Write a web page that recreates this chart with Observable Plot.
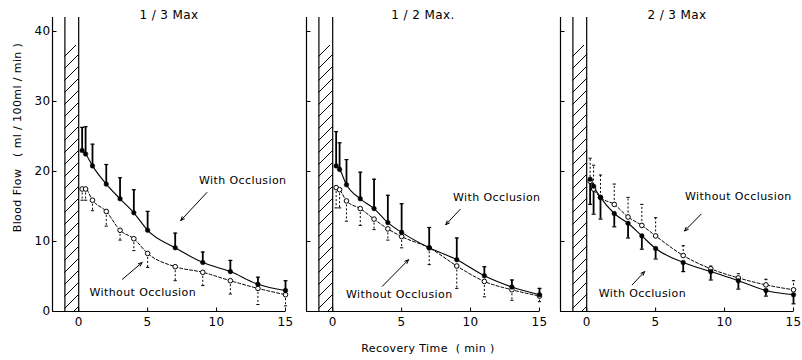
<!DOCTYPE html>
<html><head><meta charset="utf-8">
<script src="https://cdn.jsdelivr.net/npm/d3@7"></script>
<script src="https://cdn.jsdelivr.net/npm/@observablehq/plot@0.6"></script>
<style>body{margin:0;background:#fff}#chart{width:802px;height:360px}</style>
</head><body><div id="chart"></div>
<script>
// ---- data ----
const panels = ["1 / 3 Max", "1 / 2 Max.", "2 / 3 Max"];
const times = [0.25, 0.5, 1, 2, 3, 4, 5, 7, 9, 11, 13, 15];
const xTicks = [0, 5, 10, 15];
const yTicks = [0, 10, 20, 30, 40];
const xMin = -1.9, xMax = 15, yMax = 42;
const occlusionStart = -1, occlusionEnd = 0, occlusionTop = 38;

// With occlusion (filled circles, solid line); error-bar tip values
const withOcc = [
  [23.0, 22.5, 20.8, 18.2, 16.1, 14.1, 11.6, 9.1, 7.0, 5.7, 3.9, 3.0],
  [20.8, 20.3, 18.1, 16.1, 14.7, 12.7, 11.3, 9.1, 7.4, 5.1, 3.5, 2.4],
  [18.9, 17.9, 16.3, 14.0, 12.6, 10.8, 9.0, 7.0, 5.7, 4.4, 3.0, 2.4]
];
const withOccTip = [
  [26.3, 26.4, 23.9, 21.0, 19.1, 17.4, 14.3, 11.2, 8.5, 7.3, 4.9, 4.4],
  [25.7, 24.1, 21.7, 19.9, 18.9, 16.6, 15.4, 12.0, 10.5, 6.4, 4.5, 3.3],
  [15.3, 13.9, 13.2, 12.1, 10.5, 8.9, 7.5, 5.7, 4.5, 3.2, 2.2, 1.1]
];
// Without occlusion (open circles, dashed line)
const withoutOcc = [
  [17.5, 17.5, 15.9, 14.3, 11.6, 10.4, 8.3, 6.4, 5.6, 4.4, 3.3, 2.4],
  [17.7, 17.4, 15.8, 14.7, 13.2, 11.8, 10.7, 9.1, 6.5, 4.3, 3.1, 2.2],
  [18.6, 17.5, 16.3, 15.3, 13.5, 12.3, 10.8, 8.0, 6.1, 4.8, 3.8, 3.1]
];
const withoutOccTip = [
  [15.9, 15.9, 14.4, 12.2, 10.2, 8.7, 6.3, 4.4, 3.7, 2.5, 1.0, 0.8],
  [14.8, 14.8, 12.9, 12.3, 11.7, 10.2, 9.1, 6.7, 3.3, 2.1, 1.6, 1.4],
  [21.9, 20.9, 19.5, 18.2, 16.3, 15.3, 13.4, 9.4, 6.5, 5.4, 4.6, 4.4]
];

// annotations (data coordinates)
const annPanel = [0, 0, 1, 1, 2, 2];
const annText = ["With Occlusion", "Without Occlusion", "With Occlusion", "Without Occlusion", "Without Occlusion", "With Occlusion"];
const annX = [11.9, 4.65, 11.9, 4.83, 11.0, 4.04];
const annY = [18.7, 2.7, 16.3, 2.5, 16.5, 2.6];
const arrowFrom = [[9.3, 17.0], [3.17, 4.6], [9.25, 14.6], [3.6, 3.6], [8.3, 13.9], [3.3, 3.8]];
const arrowTo = [[7.4, 13.0], [4.6, 7.0], [8.2, 12.4], [5.5, 7.4], [7.1, 11.5], [4.2, 5.7]];

const yLabel = "Blood Flow\u00a0\u00a0 ( ml / 100ml / min )";
const xLabel = "Recovery Time\u00a0 ( min )";

// ---- build tables ----
const rowsWith = [], rowsWithout = [];
panels.forEach((p, i) => times.forEach((t, j) => {
  rowsWith.push({panel: p, t, v: withOcc[i][j], tip: withOccTip[i][j]});
  rowsWithout.push({panel: p, t, v: withoutOcc[i][j], tip: withoutOccTip[i][j]});
}));
const anns = annText.map((s, i) => ({panel: panels[annPanel[i]], text: s, x: annX[i], y: annY[i],
  x1: arrowFrom[i][0], y1: arrowFrom[i][1], x2: arrowTo[i][0], y2: arrowTo[i][1]}));
const occ = [{start: occlusionStart, end: occlusionEnd, top: occlusionTop}];

const cap = {draw(ctx, size) { const w = Math.sqrt(size / Math.PI); ctx.moveTo(-w, 0); ctx.lineTo(w, 0); }};
const tickRight = {draw(ctx, size) { const w = Math.sqrt(size / Math.PI); ctx.moveTo(0, 0); ctx.lineTo(w, 0); }};
const tickUp = {draw(ctx, size) { const w = Math.sqrt(size / Math.PI); ctx.moveTo(0, 0); ctx.lineTo(0, -w); }};

const svg = Plot.plot({
  width: 802, height: 360,
  marginLeft: 51, marginRight: 7, marginTop: 17, marginBottom: 49,
  facet: {marginTop: 0, marginBottom: 0, marginLeft: 0, marginRight: 0},
  style: {fontFamily: "DejaVu Sans", fontSize: "11px", letterSpacing: "0.4px", color: "black", background: "white"},
  x: {domain: [xMin, xMax]},
  y: {domain: [0, yMax]},
  fx: {domain: panels, paddingInner: 0.082, paddingOuter: 0},
  marks: [
    Plot.rect(occ, {x1: "start", x2: "end", y1: 0, y2: "top", fill: "url(#hatch)"}),
    Plot.ruleX(occ, {x: "start", stroke: "black", strokeWidth: 1.2}),
    Plot.ruleX(occ, {x: "end", stroke: "black", strokeWidth: 1.2}),
    Plot.ruleX([xMin], {stroke: "black", strokeWidth: 1.2}),
    Plot.ruleY([0], {stroke: "black", strokeWidth: 1.2}),
    Plot.axisFx({anchor: "top", tickSize: 0, tickPadding: -1, label: null, fontSize: 12}),
    Plot.axisX({ticks: xTicks, tickSize: 0, tickPadding: 6, label: null, fontSize: 12}),
    Plot.axisY({ticks: yTicks, tickSize: 0, tickPadding: 2, label: null, fontSize: 12}),
    // inward tick marks on every panel
    Plot.dot(yTicks, {x: () => xMin, y: d => d, symbol: tickRight, r: 4, stroke: "black", fill: "none", strokeWidth: 1}),
    Plot.dot(xTicks, {x: d => d, y: () => 0, symbol: tickUp, r: 4, stroke: "black", fill: "none", strokeWidth: 1}),
    // error bars
    Plot.ruleX(rowsWithout, {fx: "panel", x: "t", y1: "v", y2: "tip", stroke: "black", strokeWidth: 1, strokeDasharray: "2,2"}),
    Plot.ruleX(rowsWith, {fx: "panel", x: "t", y1: "v", y2: "tip", stroke: "black", strokeWidth: 1.8}),
    Plot.dot(rowsWithout, {fx: "panel", x: "t", y: "tip", symbol: cap, r: 1.6, stroke: "black", fill: "none", strokeWidth: 1}),
    Plot.dot(rowsWith, {fx: "panel", x: "t", y: "tip", symbol: cap, r: 2, stroke: "black", fill: "none", strokeWidth: 1.2}),
    // curves
    Plot.line(rowsWithout, {fx: "panel", x: "t", y: "v", stroke: "black", strokeWidth: 1, strokeDasharray: "3,2", curve: "monotone-x"}),
    Plot.line(rowsWith, {fx: "panel", x: "t", y: "v", stroke: "black", strokeWidth: 1.1, curve: "monotone-x"}),
    Plot.dot(rowsWithout, {fx: "panel", x: "t", y: "v", r: 2.3, fill: "white", stroke: "black", strokeWidth: 1}),
    Plot.dot(rowsWith, {fx: "panel", x: "t", y: "v", r: 2.3, fill: "black", stroke: "black", strokeWidth: 0.5}),
    // annotations
    Plot.text(anns, {fx: "panel", x: "x", y: "y", text: "text", fontSize: 11, fill: "black"}),
    Plot.arrow(anns, {fx: "panel", x1: "x1", y1: "y1", x2: "x2", y2: "y2", stroke: "black", strokeWidth: 1, headLength: 6, headAngle: 45}),
    // axis titles
    Plot.text([{panel: panels[0], text: yLabel}], {fx: "panel", text: "text", frameAnchor: "left", textAnchor: "middle", rotate: -90, dx: -35, dy: -27, fontSize: 11}),
    Plot.text([{panel: panels[1], text: xLabel}], {fx: "panel", text: "text", frameAnchor: "bottom", textAnchor: "middle", dy: 40, dx: 5, fontSize: 11})
  ]
});

const defs = d3.select(svg).insert("defs", ":first-child");
const pat = defs.append("pattern").attr("id", "hatch").attr("patternUnits", "userSpaceOnUse")
  .attr("width", 12).attr("height", 12);
pat.append("rect").attr("width", 12).attr("height", 12).attr("fill", "white");
pat.append("path").attr("d", "M-3,3L3,-3M0,12L12,0M9,15L15,9").attr("stroke", "black").attr("stroke-width", 1);

document.getElementById("chart").appendChild(svg);
</script>
</body></html>
